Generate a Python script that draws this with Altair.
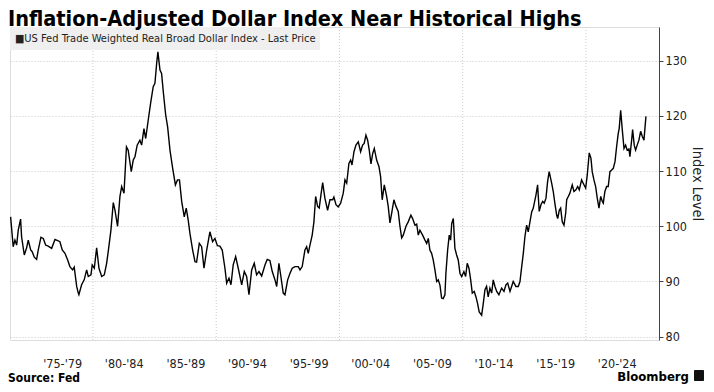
import altair as alt
import pandas as pd

TITLE = "Inflation-Adjusted Dollar Index Near Historical Highs"
LEGEND_TEXT = "\u25a0US Fed Trade Weighted Real Broad Dollar Index - Last Price"
SOURCE_TEXT = "Source: Fed"
BRAND_TEXT = "Bloomberg"
Y_TITLE = "Index Level"

years = [
    1973.32, 1973.53, 1973.67, 1973.81, 1973.94, 1974.13, 1974.21, 1974.43, 1974.62, 1974.75, 1974.95,
    1975.07, 1975.24, 1975.43, 1975.56, 1975.78, 1975.97, 1976.16, 1976.37, 1976.65, 1976.92,
    1977.14, 1977.32, 1977.51, 1977.73, 1977.95, 1978.13, 1978.35, 1978.48, 1978.68, 1978.81, 1978.86,
    1979.08, 1979.29, 1979.49, 1979.62, 1979.84, 1979.94,
    1980.11, 1980.30, 1980.49, 1980.71, 1980.92,
    1981.11, 1981.24, 1981.46, 1981.65, 1981.79,
    1982.00, 1982.19, 1982.33, 1982.52, 1982.72, 1982.86,
    1983.11, 1983.27, 1983.41, 1983.59, 1983.81, 1983.95,
    1984.14, 1984.28, 1984.49, 1984.68, 1984.89,
    1985.03, 1985.17, 1985.27, 1985.44, 1985.57, 1985.72, 1985.90,
    1986.06, 1986.25, 1986.47, 1986.69, 1986.86,
    1987.02, 1987.20, 1987.41, 1987.57, 1987.73, 1987.87,
    1988.09, 1988.28, 1988.41, 1988.63, 1988.82,
    1989.01, 1989.23, 1989.49, 1989.71, 1989.90,
    1990.10, 1990.30, 1990.49, 1990.71, 1990.85,
    1991.04, 1991.20, 1991.38, 1991.58, 1991.79,
    1992.07, 1992.28, 1992.47, 1992.66, 1992.88,
    1993.09, 1993.28, 1993.47, 1993.69, 1993.96,
    1994.14, 1994.36, 1994.55, 1994.77, 1994.91,
    1995.09, 1995.25, 1995.44, 1995.58, 1995.80, 1995.99,
    1996.17, 1996.39, 1996.66, 1996.80, 1996.98,
    1997.20, 1997.34, 1997.47, 1997.61, 1997.79, 1997.93,
    1998.07, 1998.23, 1998.36, 1998.50, 1998.64, 1998.82,
    1999.04, 1999.23, 1999.45, 1999.55, 1999.72, 1999.90,
    2000.10, 2000.31, 2000.45, 2000.59, 2000.77, 2000.91,
    2001.02, 2001.18, 2001.34, 2001.53, 2001.72, 2001.88,
    2002.01, 2002.15, 2002.29, 2002.42, 2002.56, 2002.70, 2002.83,
    2003.02, 2003.21, 2003.34, 2003.47, 2003.64, 2003.83, 2003.96,
    2004.10, 2004.24, 2004.42, 2004.59, 2004.77, 2004.91,
    2005.05, 2005.18, 2005.40, 2005.58, 2005.80, 2005.94,
    2006.13, 2006.27, 2006.40, 2006.53, 2006.75, 2006.94,
    2007.08, 2007.21, 2007.34, 2007.48, 2007.61, 2007.75, 2007.89,
    2008.02, 2008.16, 2008.29, 2008.42, 2008.56, 2008.64, 2008.78, 2008.91,
    2009.02, 2009.11, 2009.24, 2009.37, 2009.51, 2009.64, 2009.78, 2009.92,
    2010.10, 2010.24, 2010.37, 2010.51, 2010.65, 2010.78, 2010.94,
    2011.08, 2011.21, 2011.34, 2011.54, 2011.67, 2011.81, 2011.94,
    2012.07, 2012.21, 2012.35, 2012.48, 2012.62, 2012.76, 2012.94,
    2013.16, 2013.35, 2013.51, 2013.65, 2013.84, 2013.97,
    2014.10, 2014.32, 2014.51, 2014.65, 2014.79, 2014.92,
    2015.05, 2015.19, 2015.32, 2015.46, 2015.60, 2015.73, 2015.95,
    2016.08, 2016.21, 2016.35, 2016.49, 2016.62, 2016.76, 2016.89,
    2017.02, 2017.22, 2017.35, 2017.49, 2017.63, 2017.71, 2017.84, 2017.95,
    2018.08, 2018.22, 2018.36, 2018.44, 2018.57, 2018.70, 2018.89,
    2019.03, 2019.19, 2019.33, 2019.46, 2019.65, 2019.78, 2019.98,
    2020.11, 2020.27, 2020.41, 2020.51, 2020.65, 2020.79, 2020.92,
    2021.06, 2021.20, 2021.33, 2021.41, 2021.54, 2021.68, 2021.81, 2021.95,
    2022.09, 2022.22, 2022.36, 2022.49, 2022.62, 2022.70, 2022.82, 2022.95,
    2023.09, 2023.22, 2023.35, 2023.49, 2023.57, 2023.71, 2023.79, 2023.92,
    2024.03, 2024.16, 2024.30, 2024.44, 2024.57, 2024.71, 2024.87,
]

values = [
    101.7, 96.3, 97.5, 96.6, 99.3, 101.3, 98.1, 94.8, 96.1, 97.5, 95.7,
    95.4, 94.4, 94.0, 95.7, 98.0, 97.8, 96.6, 96.4, 96.0, 97.6,
    97.4, 97.2, 95.7, 95.1, 93.9, 92.7, 92.1, 92.6, 89.1, 87.9, 87.6,
    89.4, 90.3, 92.1, 90.9, 91.2, 93.0,
    92.4, 96.1, 92.4, 90.9, 91.2,
    93.3, 95.4, 99.3, 104.3, 102.9,
    100.0, 105.4, 107.2, 106.0, 114.4, 113.8,
    109.9, 112.0, 112.6, 114.7, 115.6, 114.7,
    117.7, 115.9, 119.3, 122.3, 125.3,
    125.9, 129.5, 131.6, 128.3, 127.7, 124.1, 120.2,
    118.0, 113.8, 110.5, 107.5, 108.4,
    108.4, 104.5, 101.7, 103.3, 101.1, 98.7,
    95.7, 93.6, 93.5, 96.9, 96.3,
    92.4, 95.7, 99.0, 97.2, 97.8,
    96.5, 96.4, 95.7, 92.4, 89.7,
    90.6, 89.4, 93.0, 94.5, 92.4,
    89.4, 91.8, 90.9, 87.6, 92.1,
    93.3, 91.2, 91.8, 91.0, 93.0,
    94.0, 93.8, 91.8, 90.3, 89.1,
    93.3, 90.9, 87.9, 87.6, 90.3, 91.5,
    92.4, 92.7, 92.7, 92.1, 92.7,
    95.7, 96.3, 95.1, 96.6, 98.4, 100.8,
    105.4, 103.6, 103.3, 105.7, 107.9, 105.1,
    102.9, 104.8, 104.8, 105.3, 103.9, 103.5,
    104.2, 106.0, 108.4, 107.8, 111.4, 112.0,
    111.1, 113.5, 114.7, 115.3, 113.5, 114.7,
    115.0, 116.5, 115.6, 113.8, 111.3, 113.2, 114.1,
    112.0, 110.8, 109.0, 104.8, 107.5, 105.4, 103.6,
    100.6, 102.4, 104.8, 103.6, 102.7, 100.0,
    97.9, 98.4, 100.0, 100.8, 102.0, 101.4,
    100.2, 100.4, 98.4, 99.3, 98.4, 97.5,
    96.9, 97.8, 95.7, 95.1, 93.9, 92.1, 90.0,
    90.3, 89.3, 87.0, 86.9, 87.6, 91.5, 95.7, 98.4,
    97.5, 100.5, 101.4, 96.0, 94.8, 93.9, 91.5, 90.9,
    91.8, 90.9, 93.3, 92.4, 90.3, 87.9, 88.2,
    87.2, 86.0, 84.5, 83.9, 86.0, 88.5, 89.1,
    87.2, 88.8, 87.9, 90.3, 89.1, 88.2, 87.6,
    88.8, 88.2, 89.4, 89.7, 88.2, 89.1,
    90.0, 89.1, 89.1, 90.0, 92.7, 95.1,
    98.1, 100.2, 99.0, 100.8, 102.6, 103.3, 105.7,
    107.5, 102.7, 103.9, 104.5, 104.2, 105.1, 108.1,
    109.9, 107.8, 106.3, 104.0, 102.0, 101.4, 102.9, 103.3,
    100.8, 100.2, 102.4, 104.8, 105.4, 106.0, 107.5,
    106.3, 106.6, 107.2, 106.6, 108.4, 107.8, 106.9,
    109.3, 113.3, 112.3, 109.9, 108.4, 107.2, 105.1,
    103.3, 105.4, 104.5, 104.2, 106.3, 107.2, 107.2, 109.9,
    110.2, 110.5, 111.7, 114.4, 116.8, 117.7, 121.0, 117.5,
    114.1, 114.7, 113.8, 114.0, 112.6, 115.6, 117.5, 114.7,
    113.8, 114.7, 115.6, 117.2, 116.3, 115.6, 119.9,
]

decades = [1980, 1990, 2000, 2010, 2020]
period_mids = [1977.5, 1982.5, 1987.5, 1992.5, 1997.5, 2002.5, 2007.5, 2012.5, 2017.5, 2022.5]
y_ticks = [80, 90, 100, 110, 120, 130]

X_DOMAIN = [1973.27, 2025.93]
Y_DOMAIN = [79.4, 136.1]

FONT = "DejaVu Sans Condensed"

df = pd.DataFrame({"year": years, "value": values})
grid_df = pd.DataFrame({"year": decades})
one = pd.DataFrame({"k": [0]})

x_scale = alt.Scale(domain=X_DOMAIN, nice=False, zero=False)
y_scale = alt.Scale(domain=Y_DOMAIN, nice=False, zero=False)

label_expr = ("\"'\" + substring(toString(floor(datum.value) - 2), 2, 4) + \"-'\" + "
              "substring(toString(floor(datum.value) + 2), 2, 4)")

x_axis = alt.Axis(
    values=period_mids, labelExpr=label_expr, ticks=False, domain=False, grid=False,
    title=None, labelFontSize=12.5, labelFont=FONT, labelColor="#222222", labelPadding=17,
    labelFlush=False, labelOverlap=False,
)

vgrid = alt.Chart(grid_df).mark_rule(color="#cccccc", strokeDash=[1, 2], strokeWidth=1).encode(
    x=alt.X("year:Q", scale=x_scale, axis=x_axis)
)

legend_box = alt.Chart(one).mark_rect(color="#efefef").encode(
    x=alt.value(0), x2=alt.value(310), y=alt.value(0), y2=alt.value(23)
)
legend_text = alt.Chart(one).mark_text(
    align="left", baseline="middle", font=FONT, fontSize=11, color="#222222"
).encode(x=alt.value(5), y=alt.value(12), text=alt.value(LEGEND_TEXT))

line = alt.Chart(df).mark_line(color="#000000", strokeWidth=1.4).encode(
    x=alt.X("year:Q", scale=x_scale, axis=x_axis),
    y=alt.Y(
        "value:Q",
        scale=y_scale,
        axis=alt.Axis(
            orient="right", values=y_ticks, grid=True, gridDash=[1, 2], gridColor="#c8c8c8",
            tickSize=4, tickColor="#444444", domainColor="#444444", labelPadding=2,
            labelFontSize=12.5, labelFont=FONT, labelColor="#222222",
            title=Y_TITLE, titleFont=FONT, titleFontSize=14.5, titleFontWeight="normal",
            titleColor="#222222", titlePadding=3,
        ),
    ),
)

title_text = alt.Chart(one).mark_text(
    align="left", baseline="alphabetic", font=FONT, fontSize=21.5, fontWeight="bold", color="#000000"
).encode(x=alt.value(-2), y=alt.value(-1), text=alt.value(TITLE))

source = alt.Chart(one).mark_text(
    align="left", baseline="alphabetic", font=FONT, fontSize=12, fontWeight="bold", color="#000000"
).encode(x=alt.value(-2), y=alt.value(355), text=alt.value(SOURCE_TEXT))

brand = alt.Chart(one).mark_text(
    align="right", baseline="alphabetic", font=FONT, fontSize=13, fontWeight="bold", color="#000000"
).encode(x=alt.value(679), y=alt.value(353.5), text=alt.value(BRAND_TEXT))

brand_icon = alt.Chart(one).mark_rect(color="#111111", cornerRadius=1).encode(
    x=alt.value(684), x2=alt.value(694), y=alt.value(343), y2=alt.value(354)
)

chart = alt.layer(vgrid, legend_box, legend_text, line, source, brand, brand_icon, title_text).properties(
    width=649,
    height=313,
    padding={"left": 2, "top": 19, "right": 47, "bottom": 44},
    autosize=alt.AutoSizeParams(type="none"),
).configure_view(stroke=None).configure(background="white")

chart.save("out.html", embed_options={"renderer": "svg", "actions": False})
